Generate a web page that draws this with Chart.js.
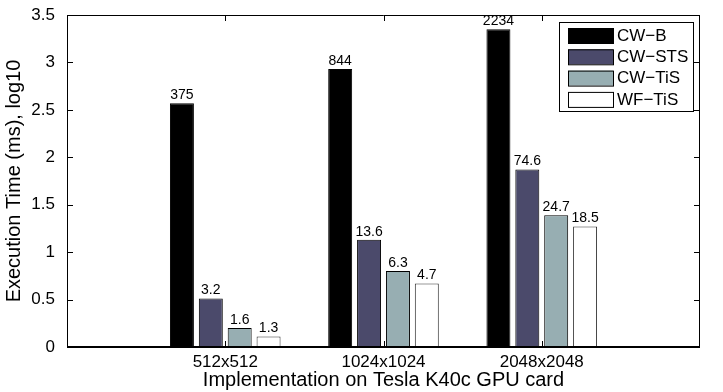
<!DOCTYPE html>
<html>
<head>
<meta charset="utf-8">
<script src="https://cdn.jsdelivr.net/npm/chart.js@4.4.1/dist/chart.umd.min.js"></script>
<style>
  html, body { margin: 0; padding: 0; background: #fff; }
  #wrap { width: 723px; height: 392px; }
</style>
</head>
<body>
<div id="wrap"><canvas id="chart"></canvas></div>
<script>
// categories on x (padded with blanks so the axis runs 0..4 like the original)
const categories = ["512x512", "1024x1024", "2048x2048"];
const seriesNames = ["CW\u2212B", "CW\u2212STS", "CW\u2212TiS", "WF\u2212TiS"];

// bar heights, log10 of execution time (ms)
const cwB   = [2.57, 2.93, 3.35];
const cwSTS = [0.51, 1.13, 1.87];
const cwTiS = [0.20, 0.80, 1.39];
const wfTiS = [0.11, 0.67, 1.27];

// text printed above each bar (raw ms)
const cwBLabels   = ["375", "844", "2234"];
const cwSTSLabels = ["3.2", "13.6", "74.6"];
const cwTiSLabels = ["1.6", "6.3", "24.7"];
const wfTiSLabels = ["1.3", "4.7", "18.5"];

const yTicks = [0, 0.5, 1, 1.5, 2, 2.5, 3, 3.5];

const colors = ["#000000", "#4b4a6b", "#97aeb2", "#ffffff"];
const FONT = "'Liberation Sans', Arial, Helvetica, sans-serif";

function pad(arr) {
    return [null].concat(arr, [null]);
}

const allValues = [cwB, cwSTS, cwTiS, wfTiS];
const allLabels = [cwBLabels, cwSTSLabels, cwTiSLabels, wfTiSLabels];

const datasets = allValues.map((vals, i) => ({
    label: seriesNames[i],
    data: pad(vals),
    backgroundColor: colors[i],
    borderColor: i === 3 ? "#333333" : "#000000",
    borderWidth: 1,
    borderSkipped: false,
    categoryPercentage: 0.73,
    barPercentage: 0.83
}));

// inward ticks, box, value labels and legend, drawn MATLAB-style
const matlabLook = {
    id: "matlabLook",
    afterDatasetsDraw(chart) {
        const ctx = chart.ctx;
        const area = chart.chartArea;
        const x = chart.scales.x;
        const y = chart.scales.y;

        ctx.save();
        ctx.fillStyle = "#000";
        ctx.font = "14px " + FONT;
        ctx.textAlign = "center";
        ctx.textBaseline = "bottom";
        chart.data.datasets.forEach((ds, i) => {
            const meta = chart.getDatasetMeta(i);
            meta.data.forEach((bar, j) => {
                if (ds.data[j] == null) return;
                ctx.fillText(allLabels[i][j - 1], bar.x, bar.y - 1);
            });
        });

        ctx.strokeStyle = "#000";
        ctx.lineWidth = 1;
        ctx.beginPath();
        ctx.moveTo(area.left, area.top + 0.5);
        ctx.lineTo(area.right - 0.5, area.top + 0.5);
        ctx.lineTo(area.right - 0.5, area.bottom);
        ctx.stroke();

        ctx.beginPath();
        yTicks.forEach(v => {
            const py = Math.round(y.getPixelForValue(v)) + 0.5;
            ctx.moveTo(area.left, py);
            ctx.lineTo(area.left + 6, py);
            ctx.moveTo(area.right, py);
            ctx.lineTo(area.right - 6, py);
        });
        categories.forEach((c, j) => {
            const px = Math.round(x.getPixelForValue(j + 1)) + 0.5;
            ctx.moveTo(px, area.bottom);
            ctx.lineTo(px, area.bottom - 6);
            ctx.moveTo(px, area.top);
            ctx.lineTo(px, area.top + 6);
        });
        ctx.stroke();

        ctx.lineWidth = 2;
        ctx.beginPath();
        ctx.moveTo(area.left, area.bottom);
        ctx.lineTo(area.right, area.bottom);
        ctx.stroke();

        // legend box
        const lx = 559, ly = 22, lw = 134, lh = 89;
        ctx.fillStyle = "#fff";
        ctx.fillRect(lx, ly, lw, lh);
        ctx.lineWidth = 1;
        ctx.strokeRect(lx + 0.5, ly + 0.5, lw, lh);
        ctx.font = "17px " + FONT;
        ctx.textAlign = "left";
        ctx.textBaseline = "middle";
        seriesNames.forEach((name, i) => {
            const cy = ly + 13 + i * 21.3;
            ctx.fillStyle = colors[i];
            ctx.fillRect(lx + 9, cy - 7, 45, 15);
            ctx.strokeStyle = "#000";
            ctx.strokeRect(lx + 9.5, cy - 6.5, 45, 15);
            ctx.fillStyle = "#000";
            ctx.fillText(name, lx + 58, cy + 1);
        });
        ctx.restore();
    }
};

new Chart(document.getElementById("chart"), {
    type: "bar",
    data: {
        labels: [""].concat(categories, [""]),
        datasets: datasets
    },
    options: {
        responsive: true,
        maintainAspectRatio: false,
        animation: false,
        layout: { padding: { top: 15, right: 23, left: 0, bottom: 0 } },
        plugins: {
            legend: { display: false },
            tooltip: { enabled: false }
        },
        scales: {
            x: {
                type: "category",
                offset: false,
                grid: { display: false, drawTicks: false },
                border: { display: false },
                ticks: {
                    color: "#000",
                    font: { family: FONT, size: 17 },
                    padding: 5,
                    maxRotation: 0,
                    autoSkip: false
                },
                title: {
                    display: true,
                    text: "Implementation on Tesla K40c GPU card",
                    color: "#000",
                    font: { family: FONT, size: 20 },
                    padding: { top: 0, bottom: 0 }
                },
                afterFit(scale) { scale.height = 45; }
            },
            y: {
                min: 0,
                max: 3.5,
                grid: { display: false },
                border: { display: true, color: "#000", width: 1 },
                ticks: {
                    stepSize: 0.5,
                    color: "#000",
                    font: { family: FONT, size: 17 },
                    padding: 4,
                    callback: v => String(v)
                },
                title: {
                    display: true,
                    text: "Execution Time (ms), log10",
                    color: "#000",
                    font: { family: FONT, size: 20 },
                    padding: { top: 2, bottom: 4 }
                },
                afterFit(scale) { scale.width = 67; }
            }
        }
    },
    plugins: [matlabLook]
});
</script>
</body>
</html>
